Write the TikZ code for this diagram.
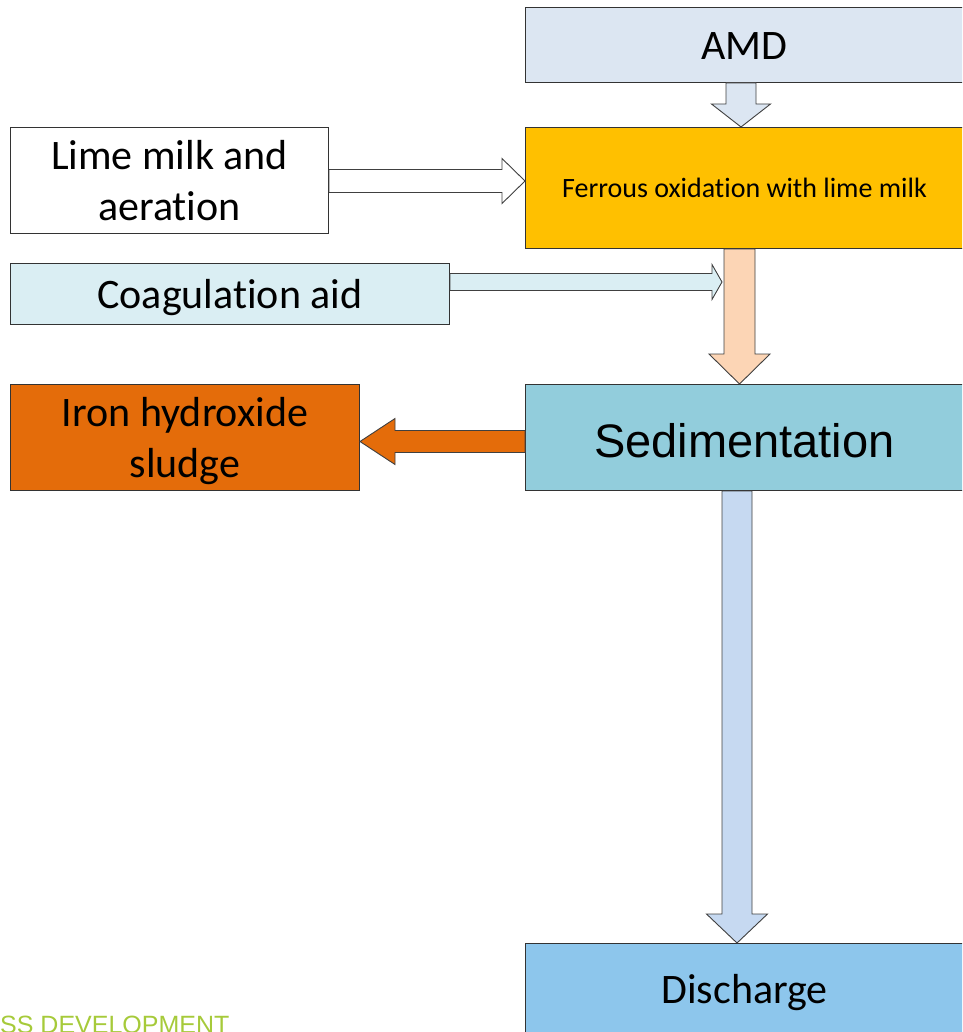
\documentclass[tikz,border=0pt]{standalone}
\usepackage{fontspec}
\setmainfont{Carlito}[Ligatures={NoCommon}]
\newfontfamily\arialf{Liberation Sans}
\usetikzlibrary{calc}
\definecolor{amdc}{RGB}{220,230,242}
\definecolor{ferc}{RGB}{255,192,0}
\definecolor{coagc}{RGB}{218,238,243}
\definecolor{sludc}{RGB}{228,108,10}
\definecolor{sedc}{RGB}{146,205,220}
\definecolor{disc}{RGB}{141,198,236}
\definecolor{peachc}{RGB}{252,213,181}
\definecolor{dharrc}{RGB}{198,217,241}
\definecolor{greenc}{RGB}{166,202,58}
% #1 style, #2 from, #3 to, #4 half shaft, #5 half head, #6 head length
\newcommand\arrdown[6]{%
  \draw[#1] let \p1=#2, \p2=#3 in
    (\x1-#4,\y1) -- (\x1-#4,\y2+#6) -- (\x1-#5,\y2+#6) -- (\x1,\y2)
    -- (\x1+#5,\y2+#6) -- (\x1+#4,\y2+#6) -- (\x1+#4,\y1) -- cycle;}
\newcommand\arrright[6]{%
  \draw[#1] let \p1=#2, \p2=#3 in
    (\x1,\y1+#4) -- (\x2-#6,\y1+#4) -- (\x2-#6,\y1+#5) -- (\x2,\y1)
    -- (\x2-#6,\y1-#5) -- (\x2-#6,\y1-#4) -- (\x1,\y1-#4) -- cycle;}
\newcommand\arrleft[6]{%
  \draw[#1] let \p1=#2, \p2=#3 in
    (\x1,\y1+#4) -- (\x2+#6,\y1+#4) -- (\x2+#6,\y1+#5) -- (\x2,\y1)
    -- (\x2+#6,\y1-#5) -- (\x2+#6,\y1-#4) -- (\x1,\y1-#4) -- cycle;}
\begin{document}
\begin{tikzpicture}[x=1pt,y=-1pt,
  box/.style={draw=black!80, line width=1pt, inner sep=0pt, anchor=north west,
    align=center, font=\fontsize{42}{51}\selectfont},
  oneline/.style={text height=37.8pt, text depth=8.4pt},
  arr/.style={draw=black!75, line width=0.9pt, line join=miter}]
\useasboundingbox (0,0) rectangle (962,1032);
\clip (0,0) rectangle (962,1032);
\node[box, oneline, fill=amdc, minimum width=438pt, minimum height=75pt] (amd) at (525,7) {AMD};
\node[box, fill=ferc, minimum width=438pt, minimum height=121pt,
  font=\fontsize{28}{34}\selectfont, text height=25.2pt, text depth=5.6pt] (ferrous) at (525,127) {Ferrous oxidation with lime milk};
\node[box, fill=white, minimum width=318pt, minimum height=106pt] (lime) at (10,127) {Lime milk and\\aeration};
\node[box, oneline, fill=coagc, minimum width=439pt, minimum height=61pt] (coag) at (10,263) {Coagulation aid};
\node[box, fill=sludc, minimum width=349pt, minimum height=106pt] (sludge) at (10,384) {Iron hydroxide\\\smash{sludge}};
\node[box, fill=sedc, minimum width=438pt, minimum height=106pt,
  font=\arialf\fontsize{47}{56}\selectfont, text height=44.65pt, text depth=5.17pt] (sed) at (525,384) {Sedimentation};
\node[box, oneline, fill=disc, minimum width=438pt, minimum height=91pt] (dis) at (525,943) {Discharge};
\coordinate (coagend) at (722,281.5);
% connectors
\arrdown{arr, fill=amdc}{($(amd.south)+(-3.5,0)$)}{($(ferrous.north)+(-3.5,0)$)}{15pt}{29.5pt}{23pt}
\arrright{arr, fill=white}{($(lime.east)+(0,0.5)$)}{(ferrous.west)}{11.5pt}{22.5pt}{23pt}
\arrdown{arr, fill=peachc}{($(ferrous.south)+(-5,0)$)}{($(sed.north)+(-5,0)$)}{15.5pt}{30.5pt}{30pt}
\arrright{arr, fill=coagc}{($(coag.east)+(0,-12)$)}{(coagend)}{8.5pt}{17.5pt}{10pt}
\arrleft{arr, fill=sludc}{($(sed.west)+(0,4)$)}{(sludge.east)}{11pt}{23pt}{35pt}
\arrdown{arr, fill=dharrc}{($(sed.south)+(-7.5,0)$)}{($(dis.north)+(-7.5,0)$)}{15pt}{30.5pt}{29pt}
\node[anchor=base west, inner sep=0pt, text=greenc, font=\arialf\fontsize{25}{30}\selectfont] (foot) at (0,1033) {SS DEVELOPMENT};
\end{tikzpicture}
\end{document}
